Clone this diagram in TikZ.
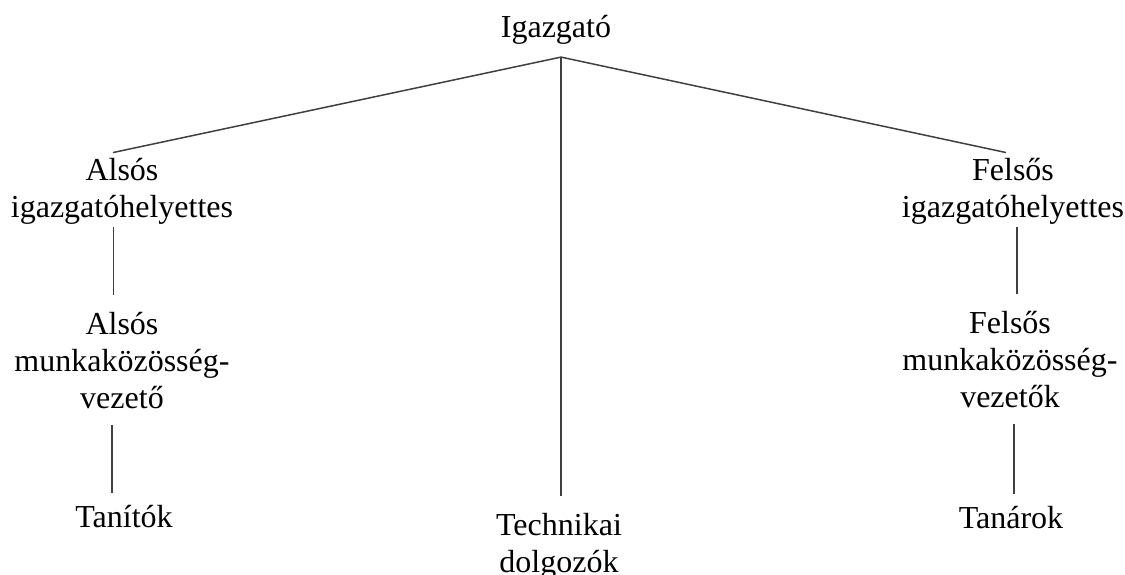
\documentclass[tikz,border=0pt]{standalone}
\usepackage{fontspec}
\setmainfont{Liberation Serif}
\begin{document}
\begin{tikzpicture}[x=1pt,y=1pt,
  unit/.style={inner sep=0pt,anchor=base,align=center,
    font=\fontsize{32}{37}\selectfont},
  link/.style={draw=black!75,line width=1.5pt}]
\useasboundingbox (0,0) rectangle (1125,-575);

% people and groups (base = baseline of the last line)
\node[unit] (igaz)  at (556,-38)  {Igazgató};
\node[unit] (alsig) at (122,-218) {Alsós\\igazgatóhelyettes};
\node[unit] (almk)  at (122,-408) {Alsós\\munkaközösség-\\vezető};
\node[unit] (tanit) at (124,-527) {Tanítók};
\node[unit] (felig) at (1013,-218) {Felsős\\igazgatóhelyettes};
\node[unit] (felmk) at (1010,-407) {Felsős\\munkaközösség-\\vezetők};
\node[unit] (tanar) at (1011,-528) {Tanárok};
\node[unit] (tech)  at (559,-572) {Technikai\\dolgozók};

% branching point below the head
\coordinate (apex) at ([xshift=5pt,yshift=-12pt]igaz.south);

% connectors
\draw[link] (apex) -- ([xshift=-9pt,yshift=6pt]alsig.north);
\draw[link] (apex) -- ([xshift=-7pt,yshift=6pt]felig.north);
\draw[link,shorten >=17pt] (apex) -- (apex |- tech.north);

\draw[link,shorten <=2pt,shorten >=17pt]
  ([xshift=-8.5pt]alsig.south) -- ([xshift=-8.5pt]almk.north);
\draw[link,shorten <=16pt,shorten >=12pt]
  ([xshift=-10pt]almk.south) -- ([xshift=-12pt]tanit.north);

\draw[link,shorten <=2pt,shorten >=17pt]
  ([xshift=4pt]felig.south) -- ([xshift=7pt]felmk.north);
\draw[link,shorten <=16pt,shorten >=12pt]
  ([xshift=4pt]felmk.south) -- ([xshift=3pt]tanar.north);
\end{tikzpicture}
\end{document}
